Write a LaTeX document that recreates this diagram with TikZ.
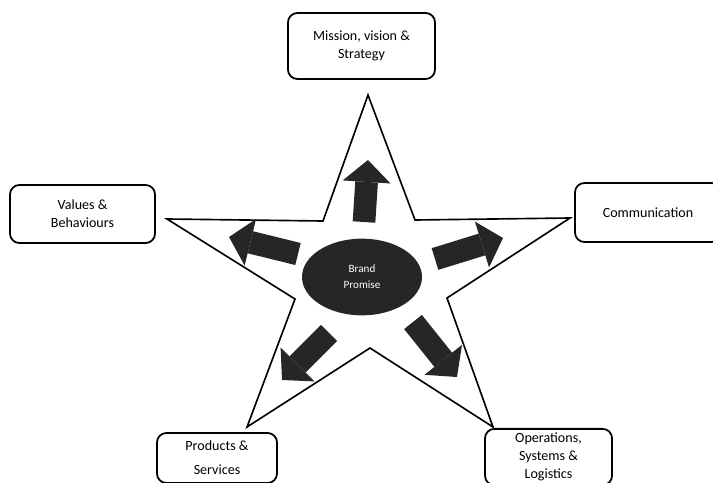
\documentclass[tikz,border=0pt]{standalone}
\usepackage{fontspec}
\setmainfont{Carlito}
\usetikzlibrary{shapes.geometric,arrows.meta}
\begin{document}
\begin{tikzpicture}[
    x=0.03cm, y=-0.03cm,
    box/.style={draw, line width=1.5pt, rounded corners=8pt, align=center,
        font=\fontsize{12}{15.5}\selectfont},
    starline/.style={draw, line width=1.4pt, line join=miter},
    bigarrow/.style={draw=black!85, line width=6.8mm,
        -{Triangle[length=6.6mm, width=14.4mm, line width=0pt]}},
    promise/.style={ellipse, fill=black!85, text=white, align=center,
        minimum width=3.6cm, minimum height=2.3cm,
        font=\fontsize{9.5}{13.5}\selectfont}
]

\useasboundingbox (0,0) rectangle (713,482);
\clip (0,0) rectangle (713,482);

% Star
\draw[starline] (368,95) -- (415,220) -- (570,218) -- (447,298) -- (493,427)
    -- (370,348) -- (247,427) -- (295,299) -- (167,219) -- (323,221) -- cycle;

% Arrows out of the centre
\foreach \xa/\ya/\xb/\yb in {364/222/368/160, 298/254/229/237, 435/259/503/238,
    329/333/282/380, 413/322/457/377}
{
    \draw[bigarrow] (\xa,\ya) -- (\xb,\yb);
}

% Centre
\node[promise] (brand) at (362,277) {Brand\\Promise};

% Boxes
\node[box, minimum width=4.41cm, minimum height=1.98cm] (mission) at (361.5,46) {Mission, vision \&\\Strategy};
\node[box, minimum width=4.35cm, minimum height=1.74cm] (values) at (82.5,214) {Values \&\\Behaviours};
\node[box, minimum width=4.38cm, minimum height=1.77cm] (comm) at (648,212.5) {Communication};
\node[box, minimum width=3.6cm, minimum height=1.5cm] (products) at (217,458) {Products \&\\[5pt]Services};
\node[box, minimum width=3.81cm, minimum height=1.68cm] (operations) at (548.5,457) {Operations,\\Systems \&\\Logistics};

\end{tikzpicture}
\end{document}
